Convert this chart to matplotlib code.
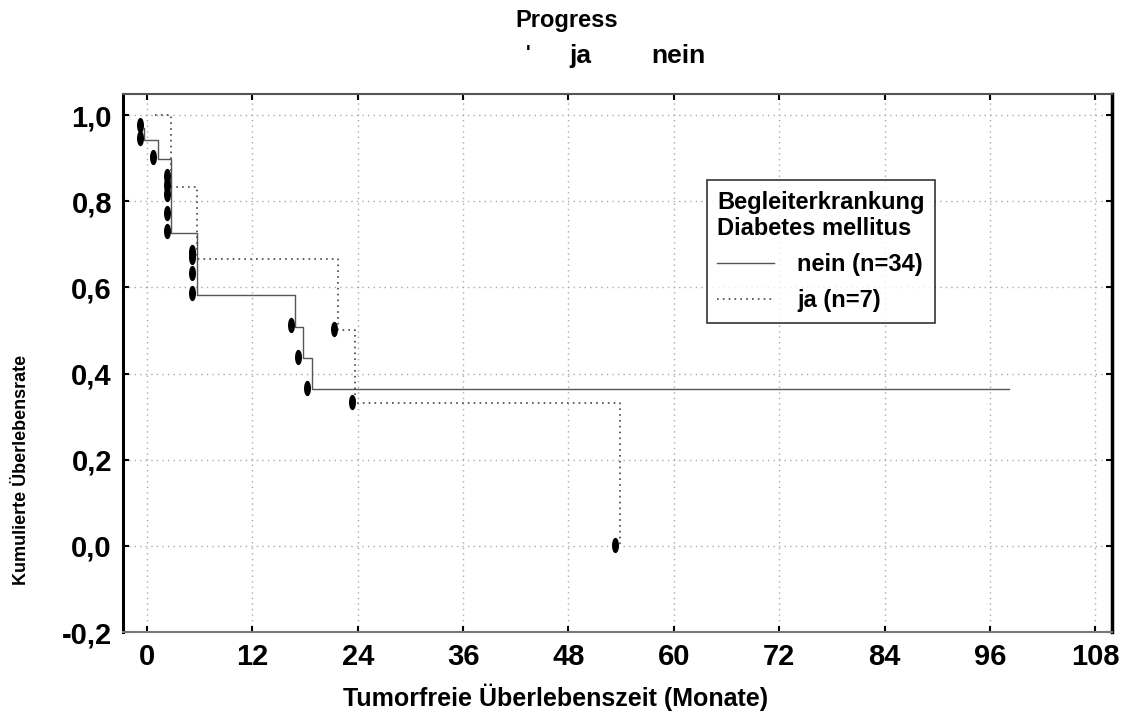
import matplotlib
matplotlib.use("Agg")
import matplotlib.pyplot as plt
from matplotlib.path import Path
from matplotlib.transforms import Affine2D
from matplotlib.lines import Line2D

# Kaplan-Meier steps
nein_t = [-0.3, -0.3, 1.22, 2.70, 5.69, 16.86, 17.73, 18.79, 98.2]
nein_s = [0.970, 0.942, 0.897, 0.727, 0.582, 0.509, 0.435, 0.363, 0.363]
ja_t = [0.9, 2.70, 5.69, 21.75, 23.7, 53.9, 53.9]
ja_s = [1.0, 0.832, 0.665, 0.501, 0.331, 0.0, 0.0]

# censored observations
cens_nein_t = [-0.83, -0.83, 0.68, 2.24, 2.24, 2.24, 2.24, 2.24,
               5.16, 5.16, 5.16, 5.16, 16.37, 17.23, 18.25]
cens_nein_s = [0.977, 0.946, 0.902, 0.858, 0.838, 0.817, 0.773, 0.731,
               0.683, 0.670, 0.633, 0.586, 0.513, 0.439, 0.367]
cens_ja_t = [21.33, 23.3, 53.3]
cens_ja_s = [0.503, 0.334, 0.002]

x_ticks = [0, 12, 24, 36, 48, 60, 72, 84, 96, 108]
y_ticks = [-0.2, 0.0, 0.2, 0.4, 0.6, 0.8, 1.0]
y_labels = ["-0,2", "0,0", "0,2", "0,4", "0,6", "0,8", "1,0"]

FONT = ["Liberation Sans Narrow", "Liberation Sans", "DejaVu Sans"]
plt.rcParams["font.family"] = FONT
plt.rcParams["font.weight"] = "bold"

fig = plt.figure(figsize=(11.29, 7.16), dpi=100)
W, H = 1129, 716
ax = fig.add_axes([123 / W, 1 - 632 / H, (1112 - 123) / W, (632 - 94) / H])

ax.step(nein_t, nein_s, where="post", color="#555555", lw=1.0)
ax.step(ja_t, ja_s, where="post", color="#444444", lw=1.2, ls=(0, (1, 2.5)))

oval = Path.unit_circle().transformed(Affine2D().scale(0.4, 1.0))
ax.plot(cens_nein_t, cens_nein_s, ls="none", marker=oval, ms=10,
        color="black")
ax.plot(cens_ja_t, cens_ja_s, ls="none", marker=oval, ms=10, color="black")

ax.set_xlim(-2.73, 109.9)
ax.set_ylim(-0.2, 1.049)
ax.set_xticks(x_ticks)
ax.set_xticklabels([str(v) for v in x_ticks])
ax.set_yticks(y_ticks)
ax.set_yticklabels(y_labels)
ax.tick_params(direction="in", length=4, width=1.5, top=True, right=True,
               labelsize=21, pad=8)
ax.grid(True, ls=(0, (1, 3)), color="#aaaaaa", lw=1)

ax.spines["left"].set_linewidth(2.2)
ax.spines["left"].set_color("black")
ax.spines["right"].set_linewidth(2.5)
ax.spines["right"].set_color("black")
ax.spines["top"].set_color("#555555")
ax.spines["top"].set_linewidth(1.5)
ax.spines["bottom"].set_color("#777777")
ax.spines["bottom"].set_linewidth(1.5)

handles = [Line2D([], [], color="#555555", lw=1.0),
           Line2D([], [], color="#444444", lw=1.2, ls=(0, (1, 2.5)))]
leg = ax.legend(handles, ["nein (n=34)", "ja (n=7)"],
                title="Begleiterkrankung\nDiabetes mellitus",
                loc="upper left", bbox_to_anchor=(0.59, 0.84),
                borderaxespad=0, fontsize=17, title_fontsize=17,
                frameon=True, fancybox=False, edgecolor="black",
                handlelength=2.4, handletextpad=1.0, borderpad=0.45,
                labelspacing=0.55)
leg.get_title().set_fontweight("bold")
leg._legend_box.align = "left"
leg.get_frame().set_linewidth(1.2)

fig.text(567 / W, 1 - 20 / H, "Progress", ha="center", va="center",
         fontsize=17, fontweight="bold")
fig.text(528 / W, 1 - 54 / H, "'", ha="center", va="center", fontsize=14)
fig.text(580 / W, 1 - 56 / H, "ja", ha="center", va="center", fontsize=19)
fig.text(678 / W, 1 - 56 / H, "nein", ha="center", va="center", fontsize=19)

fig.text(556 / W, 1 - 697 / H, "Tumorfreie Überlebenszeit (Monate)",
         ha="center", va="center", fontsize=18)
fig.text(22 / W, 1 - 470 / H, "Kumulierte Überlebensrate", ha="center",
         va="center", rotation=90, fontsize=13)

fig.savefig("out.png", dpi=100)
